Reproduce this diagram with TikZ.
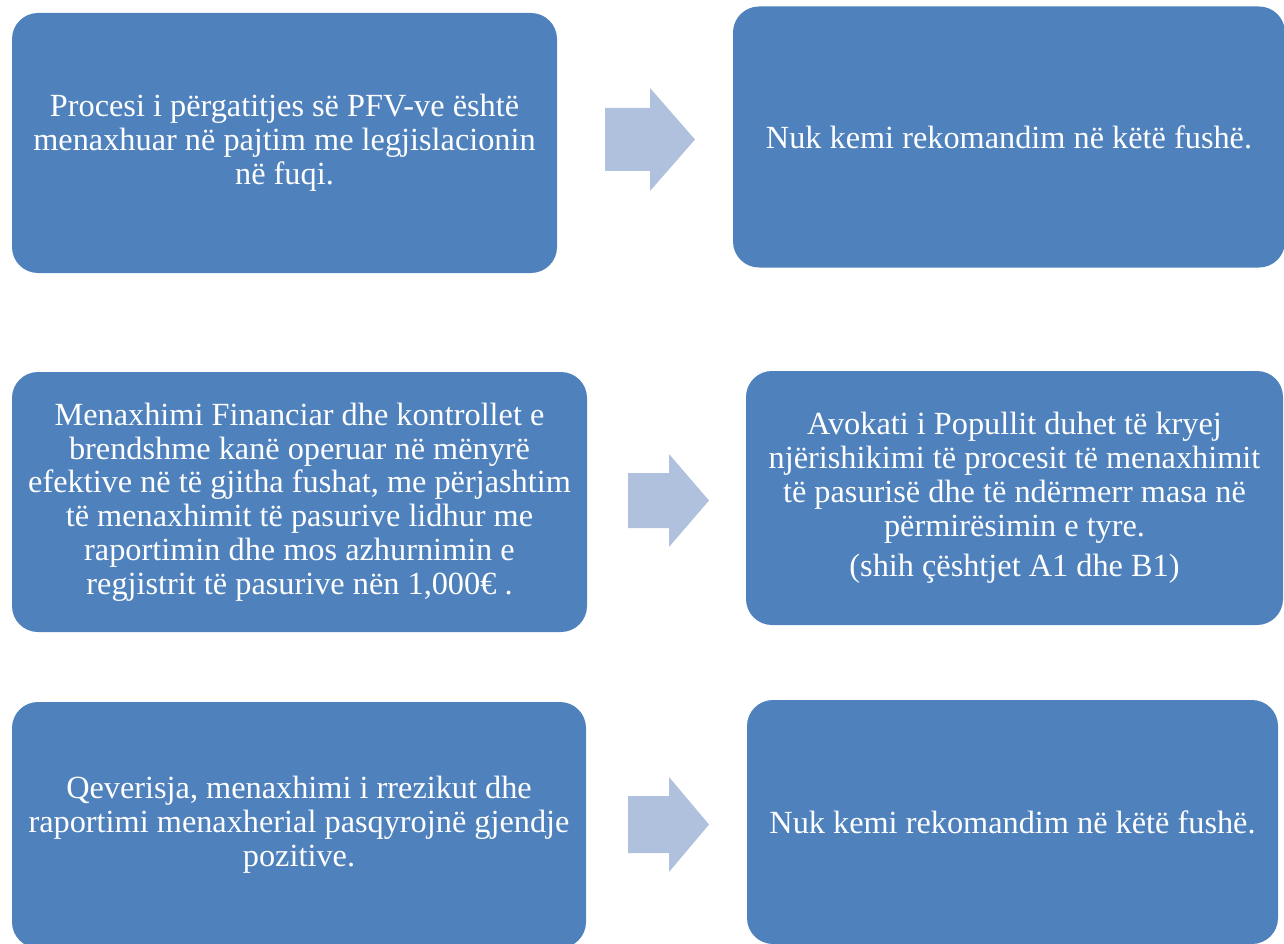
\documentclass[tikz,border=0pt]{standalone}
\usepackage{fontspec}
\setmainfont{Liberation Serif}
\definecolor{boxblue}{HTML}{4F81BD}
\definecolor{arrowblue}{HTML}{B0C1DD}
\tikzset{
  box/.style={rectangle, rounded corners=26pt, fill=boxblue, text=white,
    align=center, inner sep=0pt, font=\fontsize{32.3}{33.8}\selectfont},
  blockarrow/.style={fill=arrowblue},
}
\begin{document}
\begin{tikzpicture}[x=1pt,y=-1pt]
\useasboundingbox (0,0) rectangle (1284,944);
\clip (0,0) rectangle (1284,944);
\node[box, minimum width=545pt, minimum height=260pt] (b1) at (284.5,143)
  {Procesi i përgatitjes së PFV-ve është\\menaxhuar në pajtim me legjislacionin\\në fuqi.};
\node[box, minimum width=552pt, minimum height=261pt] (b2) at (1009,137)
  {Nuk kemi rekomandim në këtë fushë.};
\node[box, minimum width=575pt, minimum height=260pt] (b3) at (299.5,502)
  {Menaxhimi Financiar dhe kontrollet e\\brendshme kanë operuar në mënyrë\\efektive në të gjitha fushat, me përjashtim\\të menaxhimit të pasurive lidhur me\\raportimin dhe mos azhurnimin e\\regjistrit të pasurive nën 1,000€ .};
\node[box, minimum width=537pt, minimum height=254pt] (b4) at (1014.5,498)
  {Avokati i Popullit duhet të kryej\\njërishikimi të procesit të menaxhimit\\të pasurisë dhe të ndërmerr masa në\\përmirësimin e tyre.\\[7pt](shih çështjet A1 dhe B1)};
\node[box, minimum width=574pt, minimum height=246pt] (b5) at (299,825)
  {Qeverisja, menaxhimi i rrezikut dhe\\raportimi menaxherial pasqyrojnë gjendje\\pozitive.};
\node[box, minimum width=531pt, minimum height=244pt] (b6) at (1012.5,822)
  {Nuk kemi rekomandim në këtë fushë.};
\fill[blockarrow] (605,108) -- (650,108) -- (650,88) -- (695,139.5) -- (650,191) -- (650,171) -- (605,171) -- cycle;
\fill[blockarrow] (628,473) -- (669,473) -- (669,454) -- (709,500.5) -- (669,547) -- (669,528) -- (628,528) -- cycle;
\fill[blockarrow] (628,796) -- (669,796) -- (669,777) -- (709,824.5) -- (669,872) -- (669,853) -- (628,853) -- cycle;
\end{tikzpicture}
\end{document}
